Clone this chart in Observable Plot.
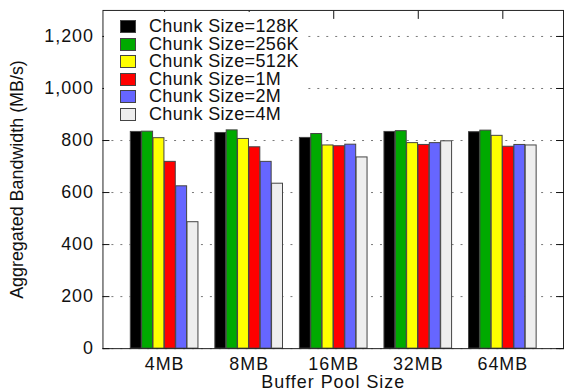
<!DOCTYPE html>
<html>
<head>
<meta charset="utf-8">
<script src="https://cdn.jsdelivr.net/npm/d3@7"></script>
<script src="https://cdn.jsdelivr.net/npm/@observablehq/plot@0.6"></script>
<style>
  html, body { margin: 0; padding: 0; background: #fff; overflow: hidden; }
  #wrap { position: relative; width: 564px; height: 390px; overflow: hidden; font-family: "Liberation Sans", Arial, sans-serif; }
  #legend { position: absolute; left: 104px; top: 12px; width: 198px; background: #fff; padding: 6px 0 4px 16px; box-sizing: border-box; }
  .row { display: flex; align-items: center; height: 17.5px; line-height: 17.5px; font-size: 18px; letter-spacing: 0.35px; color: #111; white-space: nowrap; }
  .sw { width: 16px; height: 13px; box-sizing: border-box; border: 1px solid #444; margin-right: 13px; flex: none; }
  #chart svg text { letter-spacing: 1px; }
  #chart svg g[aria-label="y-axis label"] text { letter-spacing: 0; }
</style>
</head>
<body>
<div id="wrap"><div id="chart"></div><div id="legend"></div></div>
<script>
const pools = ["4MB", "8MB", "16MB", "32MB", "64MB"];
const chunks = ["128K", "256K", "512K", "1M", "2M", "4M"];
const colors = ["#000000", "#00aa00", "#ffff00", "#ff0000", "#6666ff", "#eeeeee"];
const yTicks = [0, 200, 400, 600, 800, 1000, 1200];

const c128K = [833, 829, 810, 833, 832];
const c256K = [834, 839, 825, 836, 838];
const c512K = [809, 806, 781, 790, 818];
const c1M   = [718, 774, 778, 783, 776];
const c2M   = [624, 718, 784, 790, 783];
const c4M   = [486, 634, 735, 797, 781];

const series = [c128K, c256K, c512K, c1M, c2M, c4M];

// layout
const W = 567, H = 390, mL = 103, mR = 1, mT = 10, mB = 40;
const pIn = 0.2, pOut = 0.307;
const step = (W - mL - mR) / (pools.length - pIn + 2 * pOut);
const subW = step * (1 - pIn) / chunks.length;

const barMarks = chunks.map((c, j) =>
  Plot.barY(pools.map((p, i) => ({pool: p, chunk: c, value: series[j][i]})), {
    x: "pool", y: "value", fill: colors[j], stroke: "#444", strokeWidth: 1,
    insetLeft: j * subW, insetRight: (chunks.length - 1 - j) * subW
  })
);

const chart = Plot.plot({
  width: W,
  height: H,
  marginLeft: mL,
  marginRight: mR,
  marginTop: mT,
  marginBottom: mB,
  style: {fontFamily: "Liberation Sans, Arial, sans-serif", fontSize: "18px", background: "#fff", color: "#111"},
  x: {domain: pools, paddingInner: pIn, paddingOuter: pOut, label: null, axis: null},
  y: {domain: [0, 1300], label: null, axis: null},
  marks: [
    Plot.gridY(yTicks, {stroke: "#777", strokeOpacity: 1, strokeDasharray: "2,7"}),
    ...barMarks,
    Plot.frame({stroke: "#222"}),
    Plot.axisY(yTicks, {anchor: "left", tickSize: 0, tickPadding: 9, tickFormat: d3.format(","),
      label: "Aggregated Bandwidth (MB/s)", labelAnchor: "center", labelArrow: "none", labelOffset: 93}),
    Plot.axisY(yTicks, {anchor: "left", tickSize: -7, tickFormat: () => "", label: null}),
    Plot.axisY(yTicks, {anchor: "right", tickSize: -8, tickFormat: () => "", label: null}),
    Plot.axisX({anchor: "bottom", tickSize: 0, tickPadding: 9, label: "Buffer Pool Size", labelAnchor: "center", labelArrow: "none", labelOffset: 40}),
    Plot.axisX({anchor: "top", tickSize: -8, tickFormat: () => "", label: null})
  ]
});
document.getElementById("chart").appendChild(chart);

const legend = document.getElementById("legend");
chunks.forEach((c, j) => {
  const row = document.createElement("div");
  row.className = "row";
  const sw = document.createElement("div");
  sw.className = "sw";
  sw.style.background = colors[j];
  const t = document.createElement("span");
  t.textContent = "Chunk Size=" + c;
  row.appendChild(sw);
  row.appendChild(t);
  legend.appendChild(row);
});
</script>
</body>
</html>
